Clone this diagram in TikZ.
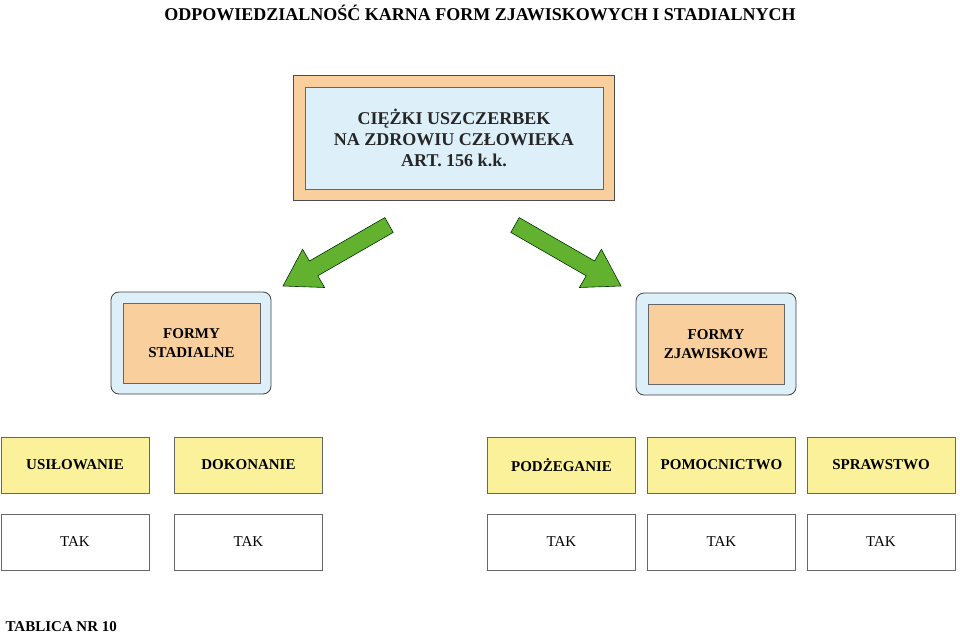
\documentclass[tikz,border=0pt]{standalone}
\usepackage{fontspec}
\setmainfont{Liberation Serif}
\begin{document}
\begin{tikzpicture}[x=1pt,y=-1pt,
  yb/.style={draw=black!60,fill=yellow!45!white,minimum width=148pt,minimum height=56pt,font=\fontsize{15}{17}\selectfont\bfseries},
  wb/.style={draw=black!60,fill=white,minimum width=148pt,minimum height=56pt,font=\fontsize{15}{17}\selectfont},
  arr/.style={draw=black!70!green,fill=green!60!black!70!lime,line width=0.6pt}]
\useasboundingbox (0,0) rectangle (960,636);
\definecolor{lb}{HTML}{DDEFF8}\definecolor{or}{HTML}{F9CF9E}\definecolor{ye}{HTML}{FBF19B}\definecolor{gr}{HTML}{62B22F}
\tikzset{yb/.append style={fill=ye},arr/.style={draw=black!80!green,fill=gr,line width=0.6pt}}
\node[font=\fontsize{18}{20}\selectfont\bfseries] (title) at (480,13) {ODPOWIEDZIALNOŚĆ KARNA FORM ZJAWISKOWYCH I STADIALNYCH};
\node[draw=black!70,fill=or,minimum width=321pt,minimum height=125pt,line width=0.8pt] (topo) at (453.5,137.5) {};
\node[draw=black!60,fill=lb,minimum width=298pt,minimum height=102pt,align=center,font=\fontsize{18}{21}\selectfont\bfseries,text=black!85] (top) at (454,138) {CIĘŻKI USZCZERBEK\\NA ZDROWIU CZŁOWIEKA\\ART. 156 k.k.};
\draw[arr] (393.2,232.4)--(317.8,275.8)--(324.6,287.5)--(283,286)--(302.6,249.3)--(309.4,261)--(384.8,217.6)--cycle;
\draw[arr] (510.8,232.4)--(586.2,275.8)--(579.4,287.5)--(621,286)--(601.4,249.3)--(594.6,261)--(519.2,217.6)--cycle;
\node[draw=black!75,fill=lb,rounded corners=8pt,minimum width=160pt,minimum height=102pt,line width=0.8pt] (lo) at (191,343) {};
\node[draw=black!60,fill=or,minimum width=137pt,minimum height=80pt,align=center,font=\fontsize{15}{19}\selectfont\bfseries] (stad) at (191.5,343) {FORMY\\STADIALNE};
\node[draw=black!75,fill=lb,rounded corners=8pt,minimum width=160pt,minimum height=102pt,line width=0.8pt] (ro) at (716,344) {};
\node[draw=black!60,fill=or,minimum width=136pt,minimum height=80pt,align=center,font=\fontsize{15}{19}\selectfont\bfseries] (zjaw) at (716,344) {FORMY\\ZJAWISKOWE};
\foreach \n/\x/\t in {a/75/USIŁOWANIE,b/248.5/DOKONANIE,c/561.5/PODŻEGANIE,d/721.5/POMOCNICTWO,e/881/SPRAWSTWO}{
  \node[yb] (y\n) at (\x,465) {\t};
  \node[wb] (w\n) at (\x,542) {TAK};
}
\node[anchor=west,font=\fontsize{15}{17}\selectfont\bfseries] (tab) at (2,627) {TABLICA NR 10};
\end{tikzpicture}
\end{document}
